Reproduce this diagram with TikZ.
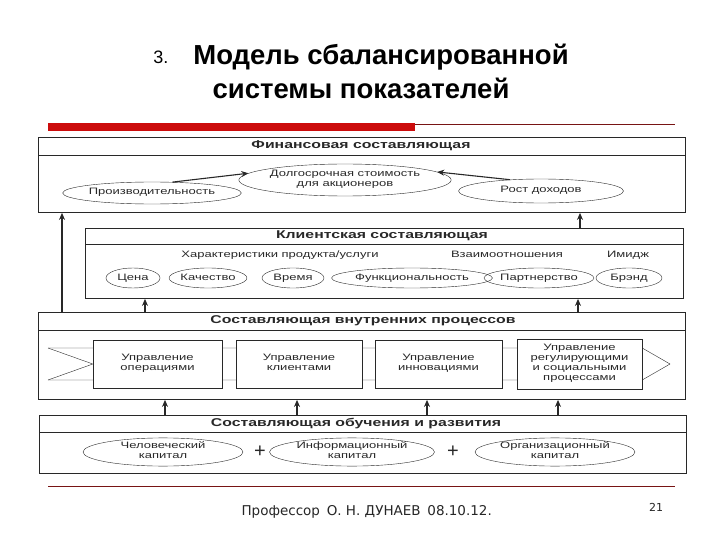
\documentclass[tikz,border=0pt]{standalone}
\usepackage{fontspec}
\setmainfont{Liberation Sans}
\newfontfamily\scanfont[FakeStretch=1.4]{Liberation Sans}
\newfontfamily\footfont{DejaVu Sans}
\usetikzlibrary{shapes.geometric,arrows.meta,backgrounds}
\definecolor{slidered}{RGB}{204,12,12}
\definecolor{linered}{RGB}{120,20,20}
\definecolor{scan}{RGB}{40,40,40}
\tikzset{
  sect/.style={draw=scan,line width=0.9pt,minimum width=647pt,anchor=north west,inner sep=0pt},
  head/.style={font=\scanfont\bfseries\fontsize{11.3}{12}\selectfont,text=scan,
    execute at begin node=\strut},
  txt/.style={font=\scanfont\fontsize{9.3}{10}\selectfont,text=scan,
    execute at begin node=\strut,execute at end node=\strut},
  oval/.style={ellipse,draw=scan,thin,inner sep=0pt,align=center,txt},
  proc/.style={draw=scan,thin,fill=white,minimum height=48pt,inner sep=0pt,align=center,txt},
  up/.style={-{Stealth[length=7pt,width=6pt]},line width=1.1pt,draw=scan},
}
\begin{document}
\begin{tikzpicture}[x=1pt,y=-1pt]
\useasboundingbox (0,0) rectangle (720,540);
% title
\node[font=\fontsize{18}{20}\selectfont,anchor=east] (num) at (172,57) {3.};
\node[font=\bfseries\fontsize{27.5}{30}\selectfont] (t1) at (381,57) {Модель сбалансированной};
\node[font=\bfseries\fontsize{27.5}{30}\selectfont] (t2) at (361,88) {системы показателей};
\fill[slidered] (48,123) rectangle (415,131);
\draw[linered,line width=0.8pt] (415,124) -- (675,124);

% financial
\node[sect,minimum height=75pt] (fin) at (38,137) {};
\node[head] (finh) at (361,146) {Финансовая составляющая};
\draw[scan,thin] (fin.west |- 0,155) -- (fin.east |- 0,155);
\node[oval,minimum width=154pt,minimum height=22pt] (prod) at (152,193) {Производительность};
\node[oval,minimum width=204pt,minimum height=32pt] (ltv) at (345,180) {Долгосрочная стоимость\\для акционеров};
\node[oval,minimum width=165pt,minimum height=24pt] (rev) at (541,191) {Рост доходов};
\draw[up] (prod.28) -- (ltv.176);
\draw[up] (rev.160) -- (ltv.5);

% clients
\node[sect,minimum width=598pt,minimum height=70pt] (cli) at (85,228) {};
\node[head] (clih) at (382,236) {Клиентская составляющая};
\draw[scan,thin] (cli.west |- 0,244) -- (cli.east |- 0,244);
\node[txt] (chr) at (280,256) {Характеристики продукта/услуги};
\node[txt] (rel) at (507,256) {Взаимоотношения};
\node[txt] (img) at (628,256) {Имидж};
\node[oval,minimum width=54pt,minimum height=20pt] (price) at (133,278) {Цена};
\node[oval,minimum width=66pt,minimum height=20pt] (qual) at (208,278) {Качество};
\node[oval,minimum width=62pt,minimum height=20pt] (time) at (293,278) {Время};
\node[oval,minimum width=134pt,minimum height=20pt] (func) at (412,278) {Функциональность};
\node[oval,minimum width=104pt,minimum height=20pt] (part) at (539,278) {Партнерство};
\node[oval,minimum width=66pt,minimum height=20pt] (brand) at (629,278) {Брэнд};

% internal processes
\node[sect,minimum height=87pt] (proc) at (38,312) {};
\node[head] (proch) at (363,321) {Составляющая внутренних процессов};
\draw[scan,thin] (proc.west |- 0,330) -- (proc.east |- 0,330);
\node[proc,minimum width=129pt] (op1) at (157.5,364) {Управление\\операциями};
\node[proc,minimum width=126pt] (op2) at (299,364) {Управление\\клиентами};
\node[proc,minimum width=127pt] (op3) at (438.5,364) {Управление\\инновациями};
\node[proc,minimum width=125pt,minimum height=50pt] (op4) at (579.5,364) {Управление\\регулирующими\\и социальными\\процессами};
\begin{scope}[on background layer]
  \draw[scan,thin] (48,348) -- (op1.west) -- (48,380);
  \draw[scan,thin] (48,348) -- (op4.east |- 0,348) -- (670,364) -- (op4.east |- 0,380) -- (48,380);
\end{scope}

% learning
\node[sect,minimum height=58pt] (learn) at (39,415) {};
\node[head] (learnh) at (356,424) {Составляющая обучения и развития};
\draw[scan,thin] (learn.west |- 0,432) -- (learn.east |- 0,432);
\node[oval,minimum width=160pt,minimum height=26pt] (hum) at (163,452) {Человеческий\\капитал};
\node[oval,minimum width=165pt,minimum height=26pt] (inf) at (352,452) {Информационный\\капитал};
\node[oval,minimum width=160pt,minimum height=26pt] (org) at (555,452) {Организационный\\капитал};
\node[font=\fontsize{20}{20}\selectfont,text=scan] (plus1) at (260,452) {+};
\node[font=\fontsize{20}{20}\selectfont,text=scan] (plus2) at (453,452) {+};

% links between perspectives
\draw[up] (62,0 |- proc.north) -- (62,0 |- fin.south);
\draw[up] (145,0 |- proc.north) -- (145,0 |- cli.south);
\draw[up] (578,0 |- proc.north) -- (578,0 |- cli.south);
\draw[up] (580,0 |- cli.north) -- (580,0 |- fin.south);
\foreach \x in {165,297,427,558}
  \draw[up] (\x,0 |- learn.north) -- (\x,0 |- proc.south);

% footer
\draw[linered,line width=0.8pt] (48,486) -- (675,486);
\node[font=\footfont\fontsize{13.5}{16}\selectfont,text=black!85,anchor=west] (foot) at (238,512) {Профессор\enspace О. Н. ДУНАЕВ\enspace 08.10.12.};
\node[font=\footfont\fontsize{11}{12}\selectfont,text=black!85] (page) at (656,507) {21};
\end{tikzpicture}
\end{document}
